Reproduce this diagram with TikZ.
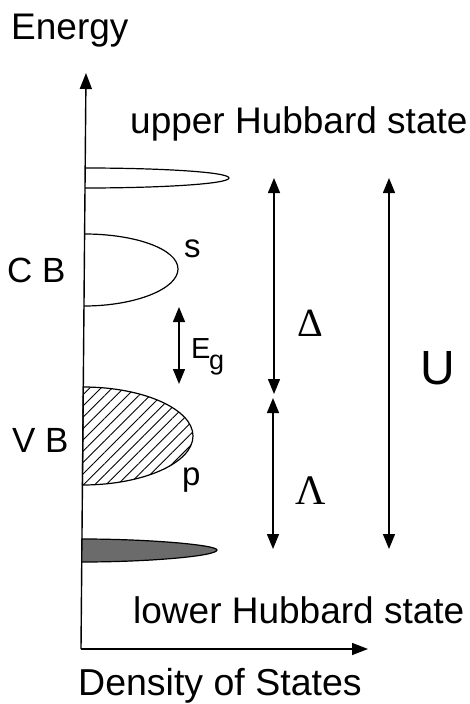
\documentclass[tikz,border=0pt]{standalone}
\usepackage{fontspec}
\setmainfont{Liberation Sans}
\newfontfamily\grk{Liberation Serif}
\usetikzlibrary{arrows.meta,patterns.meta}
\tikzset{
  ln/.style={line width=1.4pt},
  dbl/.style={ln,{Triangle[length=15pt,width=12pt]}-{Triangle[length=15pt,width=12pt]}},
  axis/.style={ln,-{Triangle[length=16pt,width=12pt]}},
  band/.style={line width=1.2pt},
  lbl/.style={inner sep=0pt,anchor=base west},
}
\newcommand{\fs}[1]{\fontsize{#1}{#1}\selectfont}
\begin{document}
\begin{tikzpicture}[x=1pt,y=-1pt]
\useasboundingbox (0,0) rectangle (469,704);
% axes
\coordinate (O) at (81,649);
\coordinate (Etop) at (86,73);
\coordinate (Dend) at (368,649);
\draw[axis] (O) -- (Etop);
\draw[axis] (O) -- (Dend);
% upper Hubbard band
\draw[band] (85.2,168) .. controls (160,168) and (229,172) .. (229,178)
  .. controls (229,184) and (160,188) .. (85.0,188);
% CB band (s)
\draw[band] (84.7,234) .. controls (135,234) and (178,249) .. (178,269)
  .. controls (178,289) and (135,306) .. (84.1,306);
% VB band (p) hatched
\draw[band,pattern={Lines[angle=45,distance=8pt,line width=0.9pt]}]
  (83.3,387) .. controls (143,387) and (193,409) .. (193,436)
  .. controls (193,463) and (143,485) .. (82.4,485) -- cycle;
% lower Hubbard band
\draw[band,fill=black!58] (82.0,539) .. controls (150,539) and (217,545) .. (217,550)
  .. controls (217,556) and (150,562) .. (81.8,562) -- cycle;
% arrows
\coordinate (gT) at (179,307);
\coordinate (gB) at (179,384);
\draw[dbl] (gT) -- (gB);
\coordinate (dT) at (274,178);
\coordinate (dB) at (274,394);
\draw[dbl] (dT) -- (dB);
\coordinate (lT) at (273,398);
\coordinate (lB) at (273,549);
\draw[dbl] (lT) -- (lB);
\coordinate (uT) at (389,178);
\coordinate (uB) at (389,549);
\draw[dbl] (uT) -- (uB);
% labels
\node[lbl] (energy) at (11,39) {\fs{37}Energy};
\node[lbl] (uhs) at (130,133) {\fs{37}upper Hubbard state};
\node[lbl] (lhs) at (133,623) {\fs{37}lower Hubbard state};
\node[lbl] (dos) at (78,695) {\fs{37.5}Density of States};
\node[lbl] (cb) at (7,282) {\fs{35}C B};
\node[lbl] (vb) at (12,452) {\fs{35}V B};
\node[lbl] (s) at (184,257) {\fs{33}s};
\node[lbl] (p) at (182,485) {\fs{33}p};
\node[lbl] (E) at (191,358) {\fs{29}E};
\node[lbl] (g) at (209,369) {\fs{27}g};
\node (Delta) at (310,323) {\grk\fs{40}Δ};
\node (Lambda) at (311,491) {\grk\fs{42}Λ};
\node (U) at (438,368) {\fs{48}U};
\end{tikzpicture}
\end{document}
